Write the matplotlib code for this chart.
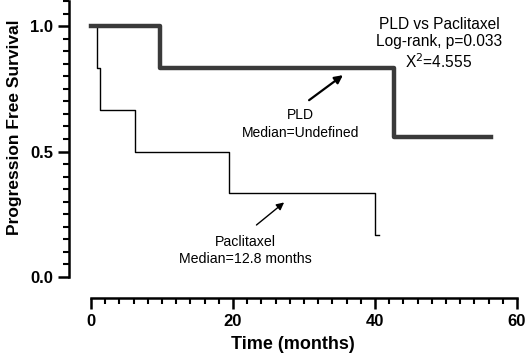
import matplotlib
matplotlib.use('Agg')
import matplotlib.pyplot as plt
import numpy as np
from matplotlib.ticker import FixedLocator, FormatStrFormatter

plt.rcParams['font.family'] = ['Liberation Sans', 'DejaVu Sans']

# Kaplan-Meier step data (event times in months, survival after each step)
pld_t = [0, 9.7, 42.7, 56.4]
pld_s = [1.0, 0.833, 0.556, 0.556]

pac_t = [0, 0.8, 1.2, 6.2, 19.4, 40.0, 40.5]
pac_s = [1.0, 0.833, 0.667, 0.5, 0.333, 0.167, 0.167]

fig = plt.figure(figsize=(5.27, 3.58), dpi=100)
W, H = 527, 358
# axes box in pixels: left 69, right 517, top 1, bottom 298
ax = fig.add_axes([69 / W, 1 - 298 / H, (517 - 69) / W, (298 - 1) / H])

ax.step(pac_t, pac_s, where='post', color='black', lw=1.0)
ax.step(pld_t, pld_s, where='post', color='#3a3a3a', lw=3.2)

ax.set_xlim(-3.1, 60)
ax.set_ylim(-0.084, 1.1)

for s in ['top', 'right']:
    ax.spines[s].set_visible(False)
ax.spines['left'].set_bounds(0, 1.1)
ax.spines['bottom'].set_bounds(0, 60)
ax.spines['left'].set_linewidth(1.8)
ax.spines['bottom'].set_linewidth(1.8)

ax.xaxis.set_major_locator(FixedLocator([0, 20, 40, 60]))
ax.xaxis.set_minor_locator(FixedLocator(np.arange(0, 61, 2)))
ax.yaxis.set_major_locator(FixedLocator([0, 0.5, 1.0]))
ax.yaxis.set_minor_locator(FixedLocator(np.round(np.arange(0, 1.101, 0.05), 2)))
ax.yaxis.set_major_formatter(FormatStrFormatter('%.1f'))
ax.tick_params(axis='both', which='major', direction='out', length=8, width=1.8,
               labelsize=12)
ax.tick_params(axis='both', which='minor', direction='out', length=4.5, width=1.5)
for lab in ax.get_xticklabels() + ax.get_yticklabels():
    lab.set_fontweight('bold')

ax.set_xlabel('Time (months)', fontsize=13, fontweight='bold', labelpad=5)
ax.set_ylabel('Progression Free Survival', fontsize=12.5, fontweight='bold')
ax.yaxis.set_label_coords(-0.104, 0.576)

ax.text(49.0, 0.93, 'PLD vs Paclitaxel\nLog-rank, p=0.033\nX$^2$=4.555',
        ha='center', va='center', fontsize=11.2, linespacing=1.2)

ax.annotate('', xy=(35.8, 0.811), xytext=(30.4, 0.698),
            arrowprops=dict(arrowstyle='-|>', color='black', lw=1.6,
                            mutation_scale=12))
ax.text(29.5, 0.61, 'PLD\nMedian=Undefined', ha='center', va='center',
        fontsize=10, linespacing=1.3)

ax.annotate('', xy=(27.5, 0.304), xytext=(23.0, 0.2),
            arrowprops=dict(arrowstyle='-|>', color='black', lw=1.0,
                            mutation_scale=11))
ax.text(21.8, 0.104, 'Paclitaxel\nMedian=12.8 months', ha='center', va='center',
        fontsize=10.2, linespacing=1.3)

fig.savefig('out.png', dpi=100)
